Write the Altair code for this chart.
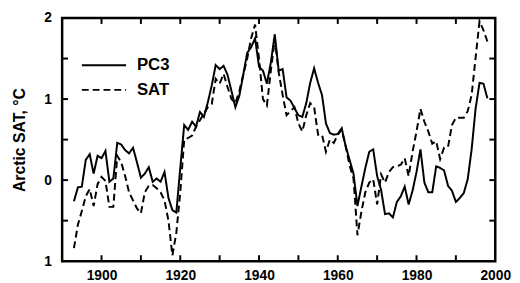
import altair as alt
import pandas as pd

years = list(range(1893, 1999))

pc3 = [
    -0.26, -0.09, -0.08, 0.25, 0.32, 0.08, 0.30, 0.27, 0.36, -0.02,
    0.02, 0.46, 0.44, 0.37, 0.33, 0.40, 0.22, 0.03, 0.08, 0.16,
    -0.02, 0.02, -0.02, 0.10, -0.22, -0.37, -0.40, 0.15, 0.68, 0.62,
    0.72, 0.66, 0.84, 0.78, 0.96, 1.17, 1.42, 1.37, 1.41, 1.30,
    1.10, 0.90, 1.04, 1.30, 1.57, 1.64, 1.75, 1.40, 1.35, 1.19,
    1.45, 1.80, 1.35, 1.37, 1.02, 0.98, 0.89, 0.80, 0.78, 0.95,
    1.20, 1.38, 1.20, 1.05, 0.70, 0.58, 0.56, 0.57, 0.64, 0.42,
    0.25, 0.08, -0.32, -0.08, 0.15, 0.35, 0.38, 0.05, -0.12, -0.42,
    -0.41, -0.46, -0.27, -0.20, -0.08, -0.30, -0.13, 0.10, 0.38, -0.03,
    -0.15, -0.15, 0.17, 0.15, 0.12, -0.07, -0.13, -0.27, -0.22, -0.16,
    0.01, 0.38, 0.88, 1.20, 1.19, 1.01,
]

sat = [
    -0.84, -0.55, -0.38, -0.20, -0.11, -0.32, -0.05, 0.04, -0.01, -0.33,
    -0.33, 0.30, 0.22, 0.05, -0.15, -0.25, -0.35, -0.41, -0.15, -0.07,
    -0.06, -0.10, -0.15, -0.25, -0.50, -0.93, -0.65, -0.15, 0.50, 0.52,
    0.55, 0.66, 0.74, 0.82, 0.90, 0.94, 1.25, 1.19, 1.31, 1.15,
    1.00, 0.95, 1.10, 1.30, 1.50, 1.75, 1.92, 1.50, 1.00, 0.92,
    1.35, 1.74, 1.33, 1.05, 0.80, 0.85, 0.90, 0.70, 0.60, 0.80,
    0.95, 0.90, 0.56, 0.56, 0.35, 0.50, 0.46, 0.56, 0.62, 0.42,
    0.18, 0.02, -0.68, -0.39, -0.15, -0.03, 0.01, -0.30, 0.07, -0.03,
    0.10, 0.16, 0.17, 0.19, 0.27, 0.05, 0.35, 0.60, 0.88, 0.72,
    0.60, 0.45, 0.48, 0.26, 0.40, 0.41, 0.68, 0.77, 0.77, 0.77,
    0.85, 1.05, 1.51, 1.96, 1.85, 1.71,
]

series_names = ["PC3", "SAT"]
x_ticks = [1900, 1910, 1920, 1930, 1940, 1950, 1960, 1970, 1980, 1990]
y_ticks = [-0.5, 0, 0.5, 1, 1.5]
x_labels = [1900, 1920, 1940, 1960, 1980, 2000]
y_labels = [-1, 0, 1, 2]

W, H, TL = 440, 247, 6

df = pd.concat([
    pd.DataFrame({"year": years, "value": pc3, "series": "PC3"}),
    pd.DataFrame({"year": years, "value": sat, "series": "SAT"}),
])
xt = pd.DataFrame({"t": x_ticks})
yt = pd.DataFrame({"t": y_ticks})

FONT = "Liberation Sans"
xscale = alt.Scale(domain=[1890, 2000], nice=False, zero=False)
yscale = alt.Scale(domain=[-1, 2], nice=False, zero=False)

lines = alt.Chart(df).mark_line(strokeWidth=2, color="black").encode(
    x=alt.X("year:Q", scale=xscale, title=None,
            axis=alt.Axis(orient="bottom", values=x_labels, format="d", ticks=False,
                          labelFlush=False, labelOverlap=False, labelPadding=8,
                          labelFontSize=14, labelFontWeight="bold", labelFont=FONT,
                          labelColor="black", domain=False, grid=False)),
    y=alt.Y("value:Q", scale=yscale, title="Arctic SAT, °C",
            axis=alt.Axis(orient="left", values=y_labels, ticks=False,
                          labelExpr="format(abs(datum.value), 'd')",
                          labelOverlap=False, labelPadding=11,
                          labelFontSize=14, labelFontWeight="bold", labelFont=FONT,
                          labelColor="black", titleFontSize=16, titleFontWeight="bold",
                          titleFont=FONT, titleColor="black", titlePadding=16,
                          domain=False, grid=False)),
    strokeDash=alt.StrokeDash("series:N",
                              scale=alt.Scale(domain=series_names, range=[[1, 0], [7, 4]]),
                              legend=alt.Legend(title=None, orient="none", legendX=19, legendY=38,
                                                symbolType="stroke", symbolSize=2025,
                                                symbolStrokeWidth=2, symbolStrokeColor="black",
                                                clipHeight=20, rowPadding=5, padding=0,
                                                labelOffset=10, labelFontSize=17,
                                                labelFontWeight="bold", labelFont=FONT,
                                                labelColor="black")),
)

tick_mark = dict(color="black", strokeWidth=2)
bottom_ticks = alt.Chart(xt).mark_rule(**tick_mark).encode(
    x=alt.X("t:Q", scale=xscale), y=alt.value(H), y2=alt.value(H - TL))
top_ticks = alt.Chart(xt).mark_rule(**tick_mark).encode(
    x=alt.X("t:Q", scale=xscale), y=alt.value(0), y2=alt.value(TL))
left_ticks = alt.Chart(yt).mark_rule(**tick_mark).encode(
    y=alt.Y("t:Q", scale=yscale), x=alt.value(0), x2=alt.value(TL))
right_ticks = alt.Chart(yt).mark_rule(**tick_mark).encode(
    y=alt.Y("t:Q", scale=yscale), x=alt.value(W), x2=alt.value(W - TL))

chart = alt.layer(lines, bottom_ticks, top_ticks, left_ticks, right_ticks).properties(
    width=W, height=H,
    autosize=alt.AutoSizeParams(type="none"),
    padding={"left": 55, "top": 8, "right": 17, "bottom": 20},
    background="white",
).configure_view(
    stroke="black", strokeWidth=2.5
)

chart.save("out.html", embed_options={"renderer": "svg", "actions": False})
